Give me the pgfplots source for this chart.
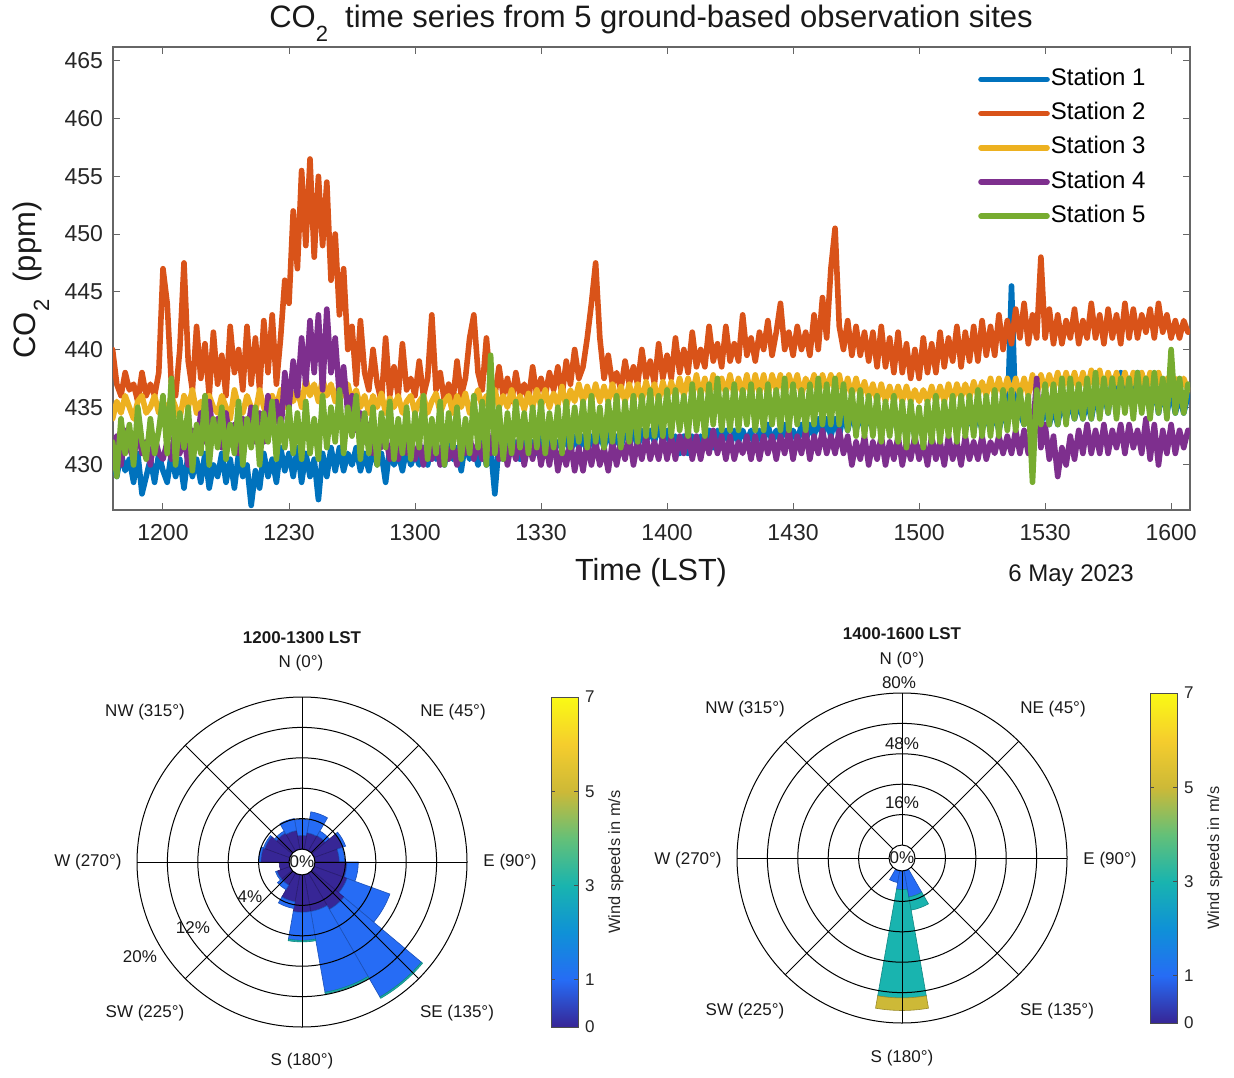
\documentclass[border=0pt]{standalone}
\usepackage{fontspec}
\setmainfont{Liberation Sans}
\usepackage{pgfplots}
\pgfplotsset{compat=1.18}
\usepackage{pgfplotstable}

\definecolor{c1}{rgb}{0,0.447,0.741}
\definecolor{c2}{rgb}{0.85,0.325,0.098}
\definecolor{c3}{rgb}{0.929,0.694,0.125}
\definecolor{c4}{rgb}{0.494,0.184,0.556}
\definecolor{c5}{rgb}{0.466,0.674,0.188}

\pgfplotsset{colormap={parula}{rgb255(0)=(55,38,150) rgb255(1)=(38,108,245) rgb255(2)=(15,145,215) rgb255(3)=(25,180,175) rgb255(4)=(100,192,120) rgb255(5)=(205,185,55) rgb255(6)=(245,205,45) rgb255(7)=(250,250,20)}}

% CO2 series, one row per minute starting 11:48
\pgfplotstableread{
s1 s2 s3 s4 s5
430.5 440.0 434.0 431.0 432.0
429.0 437.0 435.5 432.5 429.0
431.0 436.0 434.5 430.0 434.0
429.5 438.0 436.0 433.0 431.0
430.5 436.5 435.0 431.5 433.5
428.5 437.0 434.0 430.5 430.0
431.0 435.5 435.5 433.0 435.0
427.5 438.0 436.0 431.0 432.0
429.0 436.0 434.5 432.0 430.5
430.5 437.0 435.0 430.0 434.0
428.5 436.0 436.0 432.5 431.0
431.0 438.0 434.5 431.0 433.0
429.5 447.0 435.5 430.5 436.0
428.5 444.0 434.5 432.0 431.0
431.0 437.0 436.0 430.5 437.5
429.0 436.0 435.0 433.5 430.0
430.5 440.0 434.0 431.0 434.5
428.0 447.5 436.0 432.5 431.5
431.0 439.0 435.0 430.0 435.0
429.0 436.5 436.5 433.0 429.5
430.5 442.0 434.5 431.5 433.5
428.5 437.5 435.5 434.5 431.0
431.0 440.5 434.0 432.0 436.0
428.0 436.0 436.0 435.5 430.0
430.0 441.5 435.0 432.5 434.0
429.0 437.0 434.5 434.0 431.5
431.0 439.5 436.0 431.5 435.0
428.5 436.0 435.0 434.5 430.5
430.5 442.0 434.0 432.0 433.5
428.0 438.0 436.5 433.5 431.0
431.0 440.0 435.0 431.0 435.5
429.0 436.5 434.5 434.0 430.0
430.0 442.0 436.0 432.5 434.0
426.5 437.0 435.0 435.0 431.5
429.5 441.0 434.5 432.0 435.0
428.0 436.5 436.5 434.5 430.0
431.0 442.5 435.0 432.0 434.5
429.0 438.0 434.0 436.0 432.0
430.5 443.0 436.0 433.0 435.5
428.5 437.0 435.0 435.5 430.5
431.5 441.0 436.5 432.5 434.0
429.5 446.0 435.0 438.0 431.5
431.0 444.0 437.0 435.0 435.0
429.0 452.0 435.5 439.0 431.0
431.5 447.0 436.5 436.0 434.5
428.5 455.5 435.0 441.0 430.5
431.0 449.0 437.5 437.0 435.5
429.0 456.5 436.0 442.5 431.0
430.5 448.0 437.0 438.0 434.0
427.0 455.0 435.5 443.0 430.5
431.0 449.0 437.5 436.5 436.0
429.0 454.5 436.0 443.5 431.5
431.5 446.0 437.0 438.0 435.0
429.5 450.0 435.5 441.0 432.0
431.5 443.0 437.0 436.0 436.5
429.5 447.0 436.0 438.5 431.0
431.0 440.0 437.0 434.5 435.0
430.0 442.0 435.5 436.0 432.5
431.5 437.0 436.5 433.0 436.0
429.5 442.5 435.0 434.5 430.5
431.0 438.0 436.0 432.0 434.5
429.5 436.5 434.5 433.5 431.0
431.5 440.0 436.0 431.0 435.0
430.0 437.0 435.0 433.0 430.0
431.0 435.5 436.2 431.5 434.5
428.5 441.0 434.5 432.5 431.5
431.5 436.0 435.8 430.5 435.5
430.0 438.5 435.0 432.0 430.5
431.0 436.0 436.0 430.5 434.0
429.5 440.5 434.5 432.5 431.0
431.5 436.5 435.5 431.0 435.0
430.0 437.5 436.0 432.0 430.5
431.0 436.0 434.5 430.5 434.5
430.0 439.0 435.5 432.0 431.5
431.5 436.0 436.0 430.0 436.0
430.0 437.5 434.5 432.5 430.5
432.0 443.0 435.5 430.5 434.0
430.5 436.5 436.2 432.0 431.0
431.5 438.0 434.5 430.0 435.5
430.0 435.5 435.5 432.5 430.0
432.0 437.0 436.0 430.5 434.5
430.5 435.5 434.5 431.5 431.5
431.5 439.0 436.0 430.0 435.0
429.5 436.0 435.0 432.5 430.5
432.0 437.5 436.2 431.0 434.0
430.5 441.0 434.5 432.5 431.0
431.5 443.0 435.5 430.5 436.0
430.0 438.0 436.5 432.0 431.5
432.0 436.5 435.0 430.5 435.5
430.0 441.0 436.0 433.5 430.0
431.5 437.0 435.0 431.0 439.5
427.5 436.0 436.5 433.0 431.0
432.0 438.5 435.0 430.5 435.0
430.5 436.0 436.0 432.5 430.5
432.5 437.5 435.0 430.0 434.5
431.0 435.5 436.5 432.0 431.0
432.0 438.0 435.0 430.5 435.5
430.5 436.0 436.0 432.5 431.5
432.5 437.0 434.8 430.0 434.5
431.0 435.5 436.2 432.0 431.0
432.0 438.5 435.0 430.5 435.0
431.0 436.0 436.5 432.5 431.5
432.5 437.5 435.0 430.0 435.5
431.0 436.0 436.5 432.0 431.0
432.5 438.0 435.0 430.0 434.5
431.0 436.5 436.2 432.5 431.5
432.0 438.5 435.2 429.5 435.0
431.5 436.0 436.8 431.5 431.0
432.5 439.0 435.0 430.0 435.5
431.0 437.0 436.5 432.0 431.5
432.5 440.0 435.5 429.5 435.0
431.5 437.5 437.0 431.5 432.0
432.5 438.5 435.5 429.5 435.5
431.0 441.0 436.8 432.0 431.5
432.5 444.0 435.5 430.0 436.0
431.5 447.5 437.0 432.0 432.0
432.8 441.0 435.5 430.0 435.0
431.5 437.5 436.8 431.5 431.5
433.0 439.5 435.5 429.5 435.5
431.5 437.0 437.0 432.0 432.0
432.5 438.0 435.5 430.0 436.0
431.5 436.5 436.8 432.0 431.5
433.0 439.0 435.5 430.5 435.5
432.0 437.0 437.0 432.5 432.0
433.0 438.5 435.5 430.0 436.0
431.5 437.0 437.0 432.0 432.0
433.0 440.0 435.5 430.5 436.0
432.0 437.5 437.2 432.5 432.5
433.0 439.0 435.8 430.5 436.5
432.0 437.0 437.0 432.0 432.5
433.5 440.5 435.5 430.5 436.0
432.0 437.5 437.2 432.5 432.5
433.0 439.5 435.8 430.5 436.5
431.5 437.5 437.2 432.5 432.5
432.5 441.0 435.8 430.5 436.5
431.0 438.0 437.5 432.5 433.0
432.5 440.0 436.0 431.0 436.0
431.0 438.0 437.5 433.0 432.5
432.5 441.5 436.0 430.5 437.0
431.5 438.5 437.8 432.5 433.0
432.5 440.0 436.0 430.5 436.5
431.5 438.5 437.5 432.5 432.5
433.0 442.0 436.0 431.0 437.0
431.5 439.0 437.8 433.0 433.5
433.0 440.5 436.0 431.0 437.5
432.0 438.5 437.5 432.5 433.0
433.0 442.0 436.2 430.5 436.5
431.5 439.0 437.8 432.5 433.0
433.0 440.5 436.0 430.5 437.0
432.0 439.0 437.5 432.0 433.0
433.0 443.0 436.2 431.0 436.5
432.0 439.5 437.8 432.5 433.5
433.0 441.0 436.0 430.5 437.0
431.5 439.0 437.8 432.5 433.0
433.0 441.5 436.2 430.5 436.5
432.0 440.0 437.8 432.5 433.0
433.5 442.5 436.0 431.0 437.0
432.0 439.5 437.8 432.5 433.5
433.0 441.5 436.5 430.5 436.5
432.0 444.0 437.8 432.5 433.0
433.5 440.0 436.0 431.0 437.5
432.0 441.5 437.8 433.0 433.0
433.0 439.5 436.5 430.5 437.0
432.0 442.0 437.8 432.5 433.5
433.5 440.0 436.0 431.0 436.5
432.0 441.5 437.5 433.0 433.0
433.5 439.5 436.5 430.5 437.0
432.5 443.0 437.8 432.5 433.5
434.0 440.0 436.0 431.0 437.5
432.5 444.5 437.8 433.0 433.5
434.0 441.0 436.5 431.0 437.0
432.5 447.0 437.8 432.5 433.5
434.0 450.5 436.5 431.0 437.5
432.5 442.0 437.8 433.0 433.5
434.5 440.0 436.0 431.0 437.0
433.0 442.5 437.5 432.5 433.0
434.5 439.5 436.0 430.0 436.5
433.0 442.0 437.5 432.0 432.5
434.5 439.5 436.0 430.5 436.5
433.0 441.5 437.2 432.5 432.5
434.5 439.0 435.8 430.0 436.0
433.0 441.5 437.0 432.0 432.5
435.0 438.5 435.5 430.5 436.0
433.0 442.0 437.0 432.5 432.0
434.5 438.5 435.5 430.0 435.5
433.0 441.0 436.8 432.0 432.5
434.5 438.0 435.5 430.5 436.0
433.0 441.5 436.8 432.5 432.0
434.0 438.0 435.5 430.0 435.5
432.5 440.5 436.8 432.0 431.5
434.0 437.5 435.5 430.5 435.5
432.5 440.0 436.5 432.5 432.0
434.0 437.5 435.5 430.5 435.0
432.5 441.0 436.5 432.0 431.5
434.0 438.0 435.5 430.0 435.5
433.0 440.5 436.8 432.5 432.0
434.5 438.0 435.5 430.5 436.0
433.0 441.5 436.8 432.0 432.0
434.5 438.5 435.5 430.0 435.5
433.0 441.0 437.0 432.5 432.5
434.5 439.0 435.5 430.5 436.0
433.0 442.0 437.0 432.0 432.0
434.5 438.5 435.8 430.0 436.0
433.0 441.5 437.0 432.5 432.5
434.5 439.0 435.8 430.5 436.0
433.0 442.0 437.2 432.0 432.5
434.5 439.0 436.0 430.5 436.5
433.0 442.5 437.2 432.5 432.5
434.5 439.5 436.0 430.5 436.0
433.0 442.0 437.5 432.0 432.5
434.5 439.5 436.0 431.0 436.5
433.0 443.0 437.5 432.5 432.5
434.5 440.0 436.0 431.0 436.5
433.5 442.5 437.5 432.5 433.0
445.5 440.5 436.0 431.0 436.5
434.0 443.5 437.5 433.0 433.0
434.5 441.0 436.0 431.0 436.5
433.5 444.0 437.5 433.0 433.5
434.5 440.5 436.0 431.0 436.0
433.5 443.0 437.8 432.5 428.5
434.5 441.0 436.0 437.5 436.5
433.5 448.0 437.8 431.5 433.5
435.0 441.0 436.5 433.5 437.0
433.5 443.5 437.8 430.5 433.5
435.0 440.5 436.5 432.5 437.0
433.5 443.0 438.0 429.0 433.5
435.5 440.5 436.5 431.5 437.5
434.0 442.5 438.0 430.0 433.5
435.5 441.0 436.5 432.5 437.5
434.0 443.5 438.0 430.5 434.0
435.5 440.5 436.5 433.0 437.0
434.0 442.5 438.0 431.0 434.0
435.5 441.0 436.5 433.5 437.5
434.0 444.0 438.2 431.0 434.0
436.0 441.0 436.5 433.0 438.0
434.5 443.0 438.2 431.0 434.0
436.5 440.5 436.5 433.5 437.5
434.5 443.5 438.0 431.0 434.5
437.5 441.0 436.5 433.0 437.5
435.0 443.0 438.0 431.5 434.0
438.0 440.5 436.5 433.5 437.5
435.0 444.0 438.0 431.0 434.5
437.5 441.0 436.5 433.5 437.5
435.0 443.5 438.0 431.5 434.0
438.0 441.0 436.5 433.0 438.0
435.0 443.0 438.0 431.0 434.5
437.5 441.5 436.5 434.0 437.5
434.5 443.5 438.0 430.5 434.0
437.0 441.0 436.5 433.5 438.0
434.5 444.0 438.0 430.0 434.5
436.5 441.5 436.5 433.0 437.5
434.5 443.0 437.5 431.0 434.0
436.5 441.0 436.5 433.5 440.0
434.5 442.5 437.5 431.0 434.5
436.0 441.0 436.5 433.0 437.5
434.5 442.5 437.5 431.5 434.5
436.0 441.5 436.5 433.0 437.0
}\costable

% wind rose 1200-1300: direction, inner %, outer %, speed class (m/s)
\pgfplotstableread{
dir pin pout spd
0 0 1.8 0
0 1.8 3.9 1
20 0 2.2 0
20 2.2 5.0 1
40 0 2.3 0
40 2.3 3.0 1
60 0 4.0 0
60 4.0 4.4 1
80 0 3.2 0
80 3.2 3.9 1
100 0 4.2 0
100 4.2 5.7 1
120 0 4.6 0
120 4.6 10.6 1
140 0 5.5 0
140 5.5 18.8 1
140 18.8 19.0 3
160 0 4.9 0
160 4.9 15.7 1
160 15.7 15.9 3
180 0 4.9 0
180 4.9 8.6 1
180 8.6 8.8 3
200 0 3.6 0
200 3.6 4.5 1
220 0 1.8 0
220 1.8 2.5 1
240 0 1.8 0
240 1.8 2.0 1
260 0 1.3 0
280 0 3.7 0
280 3.7 4.0 1
300 0 3.5 0
300 3.5 3.7 1
320 0 2.7 0
320 2.7 3.0 1
340 0 2.5 0
340 2.5 4.1 1
}\roseA

% wind rose 1400-1600
\pgfplotstableread{
dir pin pout spd
200 0 6.3 1
180 0 9.8 1
180 9.8 66.8 3
180 66.8 73.4 5
160 0 14.0 1
160 14.0 21.0 3
}\roseB

\pgfplotsset{
  rosebase/.style={
    anchor=south west, scale only axis, width=165pt, height=165pt,
    xmin=-5.4276, xmax=5.4276, ymin=-5.4276, ymax=5.4276,
    axis line style={draw=none}, xtick=\empty, ytick=\empty, clip=false,
    colormap name=parula, point meta min=0, point meta max=7,
    colorbar,
    colorbar style={at={(parent axis.north east)}, anchor=north west,
      scale only axis, width=13.5pt, height=165pt,
      ytick={0,1,3,5,7}, tick align=inside, major tick length=2pt,
      tick style={black!70, line width=0.4pt},
      axis line style={black!70, line width=0.5pt},
      yticklabel pos=right,
      /pgf/number format/assume math mode=true,
      yticklabel style={font=\fontsize{8.5}{9}\selectfont, text=black!85},
      ylabel={Wind speeds in m/s},
      ylabel style={font=\fontsize{8.2}{9}\selectfont, text=black!85},
    },
  },
  wedges/.style={
    scatter, only marks, mark=*, mark size=0pt, point meta=explicit,
    visualization depends on={\thisrow{dir}\as\wdir},
    visualization depends on={\thisrow{pin}\as\wpin},
    visualization depends on={\thisrow{pout}\as\wpout},
    scatter/@pre marker code/.code={%
      \pgfplotscolormapdefinemappedcolor{\pgfplotspointmetatransformed}%
      \begingroup
      \pgfkeys{/pgf/fpu=false}%
      \pgfmathsetmacro\aA{90-\wdir-10}%
      \pgfmathsetmacro\aB{90-\wdir+10}%
      \pgfmathsetmacro\rI{6.5+\wpin*15.2/#1}%
      \pgfmathsetmacro\rO{6.5+\wpout*15.2/#1}%
      \fill[mapped color, draw=mapped color!75!black, line width=0.3pt]
        (\aA:\rI pt) -- (\aA:\rO pt) arc[start angle=\aA, end angle=\aB, radius=\rO pt]
        -- (\aB:\rI pt) arc[start angle=\aB, end angle=\aA, radius=\rI pt] -- cycle;
      \endgroup
    },
    scatter/@post marker code/.code={},
  },
}

\begin{document}
\begin{tikzpicture}
\useasboundingbox (0pt,0pt) rectangle (617pt,538.5pt);

% ---------------- time series ----------------
\begin{axis}[
  at={(56.5pt,283.5pt)}, anchor=south west, scale only axis,
  width=538.5pt, height=231.5pt,
  xmin=-11.9, xmax=244.5, ymin=426.1, ymax=466.2,
  xtick={0,30,...,240},
  xticklabels={1200,1230,1300,1330,1400,1430,1500,1530,1600},
  ytick={430,435,...,465},
  tick align=inside, major tick length=3.5pt,
  tick style={black!60, line width=0.5pt},
  axis line style={black!60, line width=0.6pt},
  /pgf/number format/assume math mode=true,
  ticklabel style={font=\fontsize{11.5}{12}\selectfont, text=black!85},
  yticklabel style={xshift=-1.5pt},
  xticklabel style={yshift=-3.5pt},
  legend style={draw=none, fill=none, at={(0.803,0.955)}, anchor=north west,
    font=\fontsize{12}{12}\selectfont, row sep=6pt, inner sep=0pt,
    nodes={inner xsep=0.5pt, inner ysep=0pt, text height=8.6pt, text depth=2.5pt}},
  legend cell align=left,
  legend image code/.code={\draw[#1, line width=2.8pt, line cap=round] (0pt,0pt) -- (33pt,0pt);},
  every axis plot/.append style={line width=2.8pt, line join=round, line cap=round},
]
\addplot[c1] table[x expr=\coordindex-12, y=s1] {\costable};
\addlegendentry{Station 1}
\addplot[c2] table[x expr=\coordindex-12, y=s2] {\costable};
\addlegendentry{Station 2}
\addplot[c3] table[x expr=\coordindex-12, y=s3] {\costable};
\addlegendentry{Station 3}
\addplot[c4] table[x expr=\coordindex-12, y=s4] {\costable};
\addlegendentry{Station 4}
\addplot[c5] table[x expr=\coordindex-12, y=s5] {\costable};
\addlegendentry{Station 5}
\end{axis}

\node[font=\fontsize{15.5}{16}\selectfont, text=black!90, anchor=base] at (325.5pt,524.5pt)
  {CO\raisebox{-0.45em}{\fontsize{11}{11}\selectfont 2}\ \ time series from 5 ground-based observation sites};
\node[font=\fontsize{15.5}{16}\selectfont, text=black!90, rotate=90] at (15.5pt,398.5pt)
  {CO\raisebox{-0.45em}{\fontsize{11}{11}\selectfont 2}\ \ (ppm)};
\node[font=\fontsize{15.3}{16}\selectfont, text=black!90] at (325.5pt,252pt) {Time (LST)};
\node[font=\fontsize{12}{13}\selectfont, text=black!90] at (535.5pt,250.5pt) {6 May 2023};

% ---------------- wind rose 1 ----------------
\begin{axis}[rosebase, at={(68.5pt,25pt)}, colorbar style={xshift=33.5pt}]
\addplot[wedges=4] table[x expr=0, y expr=0, meta=spd] {\roseA};
\end{axis}
% ---------------- wind rose 2 ----------------
\begin{axis}[rosebase, at={(368.5pt,27pt)}, colorbar style={xshift=33pt}]
\addplot[wedges=16] table[x expr=0, y expr=0, meta=spd] {\roseB};
\end{axis}

% grids
\foreach \cx/\cy in {151/107.5, 451/109.5} {
  \begin{scope}[shift={(\cx pt,\cy pt)}, line width=0.5pt, black]
    \foreach \r in {6.5,21.7,36.9,52.1,67.3,82.5} \draw (0,0) circle[radius=\r pt];
    \foreach \a in {0,45,...,315} \draw (\a:6.5pt) -- (\a:82.5pt);
  \end{scope}
}

% rose labels
\begin{scope}[font=\fontsize{8.5}{9}\selectfont, text=black!90]
\node[font=\fontsize{8.5}{9}\selectfont\bfseries] at (151pt,219.5pt) {1200-1300 LST};
\node at (150.5pt,207pt) {N (0°)};
\node at (226.5pt,182.5pt) {NE (45°)};
\node at (255pt,107.5pt) {E (90°)};
\node at (228.5pt,32pt) {SE (135°)};
\node at (151pt,8pt) {S (180°)};
\node at (72.5pt,32pt) {SW (225°)};
\node at (44pt,107.5pt) {W (270°)};
\node at (72.5pt,182.5pt) {NW (315°)};
\node at (125pt,90pt) {4\%};
\node at (96.5pt,74.5pt) {12\%};
\node at (70pt,60pt) {20\%};
\node at (151pt,107.5pt) {0\%};

\node[font=\fontsize{8.5}{9}\selectfont\bfseries] at (451pt,221.5pt) {1400-1600 LST};
\node at (451pt,208.5pt) {N (0°)};
\node at (449.5pt,197pt) {80\%};
\node at (451pt,166.5pt) {48\%};
\node at (451pt,137pt) {16\%};
\node at (526.5pt,184pt) {NE (45°)};
\node at (555pt,108.5pt) {E (90°)};
\node at (528.5pt,33pt) {SE (135°)};
\node at (451pt,9.5pt) {S (180°)};
\node at (372.5pt,33pt) {SW (225°)};
\node at (344pt,108.5pt) {W (270°)};
\node at (372.5pt,184pt) {NW (315°)};
\node at (451pt,109.5pt) {0\%};
\end{scope}
\end{tikzpicture}
\end{document}
